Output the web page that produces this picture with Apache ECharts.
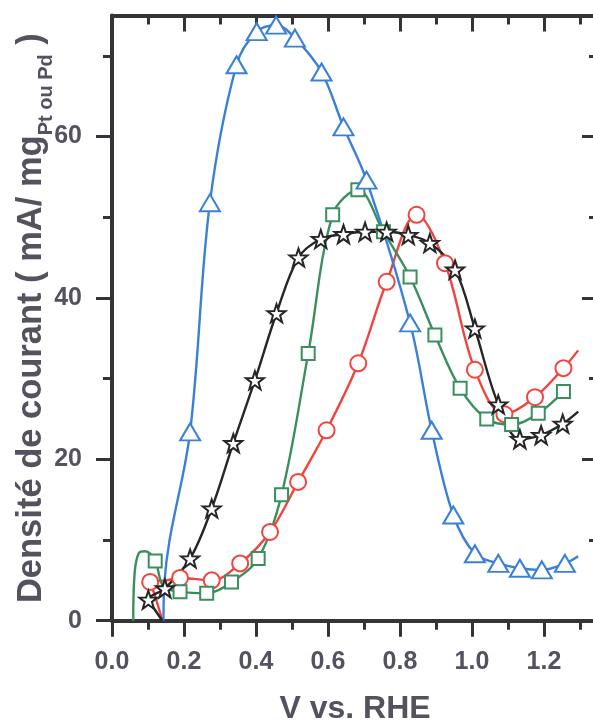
<!DOCTYPE html>
<html><head><meta charset="utf-8">
<script src="https://cdn.jsdelivr.net/npm/echarts@6/dist/echarts.min.js"></script>
<style>html,body{margin:0;padding:0;background:#fff}#c{width:593px;height:720px}</style>
</head><body><div id="c"></div><script>
// ---- tick values ----
const xMajorTicks = [0, 0.2, 0.4, 0.6, 0.8, 1.0, 1.2];
const xMinorTicks = [0.1, 0.3, 0.5, 0.7, 0.9, 1.1, 1.3];
const yMajorTicks = [0, 20, 40, 60];
const yMinorTicks = [10, 30, 50, 70];

// ---- series data (x = V vs RHE, y = mA/mg); mark=1 -> point drawn with a symbol ----
const blueX = [0.143, 0.146, 0.16, 0.217, 0.272, 0.346, 0.402, 0.456, 0.508, 0.582, 0.643, 0.707, 0.828, 0.888, 0.948, 1.008, 1.073, 1.133, 1.194, 1.258, 1.295];
const blueY = [0, 5, 10, 23.4, 51.8, 68.9, 73.0, 73.8, 72.2, 68.0, 61.2, 54.6, 36.9, 23.6, 13.1, 8.3, 7.1, 6.5, 6.3, 7.1, 8.0];
const blueMark = [0, 0, 0, 1, 1, 1, 1, 1, 1, 1, 1, 1, 1, 1, 1, 1, 1, 1, 1, 1, 0];

const redX = [0.14, 0.12, 0.106, 0.15, 0.189, 0.277, 0.356, 0.439, 0.517, 0.596, 0.684, 0.763, 0.846, 0.925, 1.008, 1.09, 1.175, 1.254, 1.295];
const redY = [0, 3.0, 4.8, 5.0, 5.3, 5.0, 7.1, 11.0, 17.2, 23.6, 31.9, 42.0, 50.3, 44.3, 31.1, 25.6, 27.7, 31.3, 33.5];
const redMark = [0, 0, 1, 0, 1, 1, 1, 1, 1, 1, 1, 1, 1, 1, 1, 1, 1, 1, 0];

const greenX = [0.059, 0.063, 0.075, 0.092, 0.12, 0.143, 0.189, 0.263, 0.332, 0.406, 0.471, 0.545, 0.613, 0.683, 0.754, 0.828, 0.897, 0.967, 1.041, 1.11, 1.184, 1.254];
const greenY = [0, 6.0, 8.4, 8.6, 7.4, 4.2, 3.6, 3.4, 4.8, 7.7, 15.6, 33.1, 50.3, 53.4, 48.2, 42.6, 35.4, 28.8, 25.0, 24.3, 25.7, 28.4];
const greenMark = [0, 0, 0, 0, 1, 0, 1, 1, 1, 1, 1, 1, 1, 1, 1, 1, 1, 1, 1, 1, 1, 1];

const blackX = [0.14, 0.12, 0.101, 0.147, 0.217, 0.277, 0.337, 0.397, 0.457, 0.518, 0.58, 0.643, 0.703, 0.763, 0.823, 0.883, 0.953, 1.008, 1.073, 1.133, 1.192, 1.252, 1.295];
const blackY = [0, 1.3, 2.6, 4.0, 7.7, 13.9, 22.0, 29.8, 38.1, 45.0, 47.3, 47.9, 48.2, 48.2, 47.8, 46.8, 43.5, 36.2, 26.8, 22.5, 23.0, 24.4, 25.9];
const blackMark = [0, 0, 1, 1, 1, 1, 1, 1, 1, 1, 1, 1, 1, 1, 1, 1, 1, 1, 1, 1, 1, 1, 0];

const xTitle = 'V vs. RHE';
const yTitleMain = 'Densité de courant ( mA/ mg';
const yTitleSub = 'Pt ou Pd';
const yTitleEnd = ' )';

// ---- styles ----
const AX = '#333338';
const LB = '#54525e';
const FONT = 'Liberation Sans';
const STAR = 'path://M50 0 L61.76 33.82 L97.55 34.55 L69.02 56.18 L79.39 90.45 L50 70 L20.61 90.45 L30.98 56.18 L2.45 34.55 L38.24 33.82 Z';

function build(xs, ys, marks) {
  return xs.map((x, i) => marks[i] ? { value: [x, ys[i]] } : { value: [x, ys[i]], symbol: 'none' });
}
function mkSeries(name, xs, ys, marks, color, symbol, size) {
  return {
    name, type: 'line', xAxisIndex: 0, yAxisIndex: 0,
    data: build(xs, ys, marks), smooth: 0.35,
    symbol, symbolSize: size, showAllSymbol: true,
    lineStyle: { color, width: 2.4 },
    itemStyle: { color: '#ffffff', borderColor: color, borderWidth: 2 },
    emphasis: { disabled: true }
  };
}
function xAx(pos, ticks, len, inside, label, line) {
  const a = {
    type: 'value', position: pos, min: 0, max: 1.35,
    axisLine: { show: line, onZero: false, lineStyle: { color: AX, width: 4 } },
    axisTick: { show: true, customValues: ticks, length: len, inside, lineStyle: { color: AX, width: 3 } },
    axisLabel: label ? { customValues: ticks, formatter: v => v.toFixed(1), fontSize: 25, fontWeight: 'bold', color: LB, margin: 29, fontFamily: FONT } : { show: false },
    splitLine: { show: false }
  };
  if (label) {
    a.name = xTitle; a.nameLocation = 'middle'; a.nameGap = 72; a.nameMoveOverlap = false;
    a.nameTextStyle = { fontSize: 32, fontWeight: 'bold', color: LB, fontFamily: FONT };
  }
  return a;
}
function yAx(pos, ticks, len, inside, label, line) {
  const a = {
    type: 'value', position: pos, min: 0, max: 75,
    axisLine: { show: line, onZero: false, lineStyle: { color: AX, width: 4 } },
    axisTick: { show: true, customValues: ticks, length: len, inside, lineStyle: { color: AX, width: 3 } },
    axisLabel: label ? { customValues: ticks, fontSize: 25, fontWeight: 'bold', color: LB, margin: 30, fontFamily: FONT } : { show: false },
    splitLine: { show: false }
  };
  if (label) {
    a.name = '{a|' + yTitleMain + '}{s|' + yTitleSub + '}{a|' + yTitleEnd + '}';
    a.nameLocation = 'middle'; a.nameGap = 56; a.nameMoveOverlap = false;
    a.nameTextStyle = {
      color: LB, fontFamily: FONT,
      rich: {
        a: { fontSize: 34.5, fontWeight: 'bold', color: LB, fontFamily: FONT, lineHeight: 50 },
        s: { fontSize: 20, fontWeight: 'bold', color: LB, fontFamily: FONT, verticalAlign: 'bottom' }
      }
    };
  }
  return a;
}

const chart = echarts.init(document.getElementById('c'), null, { renderer: 'canvas' });
chart.setOption({
  animation: false,
  backgroundColor: '#ffffff',
  grid: { left: 112, right: -5, top: 15.5, bottom: 99.3, containLabel: false, outerBoundsMode: 'none' },
  xAxis: [
    xAx('bottom', xMajorTicks, 16, false, true, true),
    xAx('bottom', xMinorTicks, 9, false, false, false),
    xAx('top', xMajorTicks, 16, true, false, true),
    xAx('top', xMinorTicks, 9, true, false, false)
  ],
  yAxis: [
    yAx('left', yMajorTicks, 16, false, true, true),
    yAx('left', yMinorTicks, 9, false, false, false),
    yAx('right', yMajorTicks, 16, true, false, true),
    yAx('right', yMinorTicks, 9, true, false, false)
  ],
  series: [
    mkSeries('red', redX, redY, redMark, '#f2443f', 'circle', 16),
    mkSeries('green', greenX, greenY, greenMark, '#3a8f5e', 'rect', 13),
    mkSeries('blue', blueX, blueY, blueMark, '#3a80d8', 'triangle', [20, 17]),
    mkSeries('black', blackX, blackY, blackMark, '#262626', STAR, 18)
  ]
});
</script></body></html>
